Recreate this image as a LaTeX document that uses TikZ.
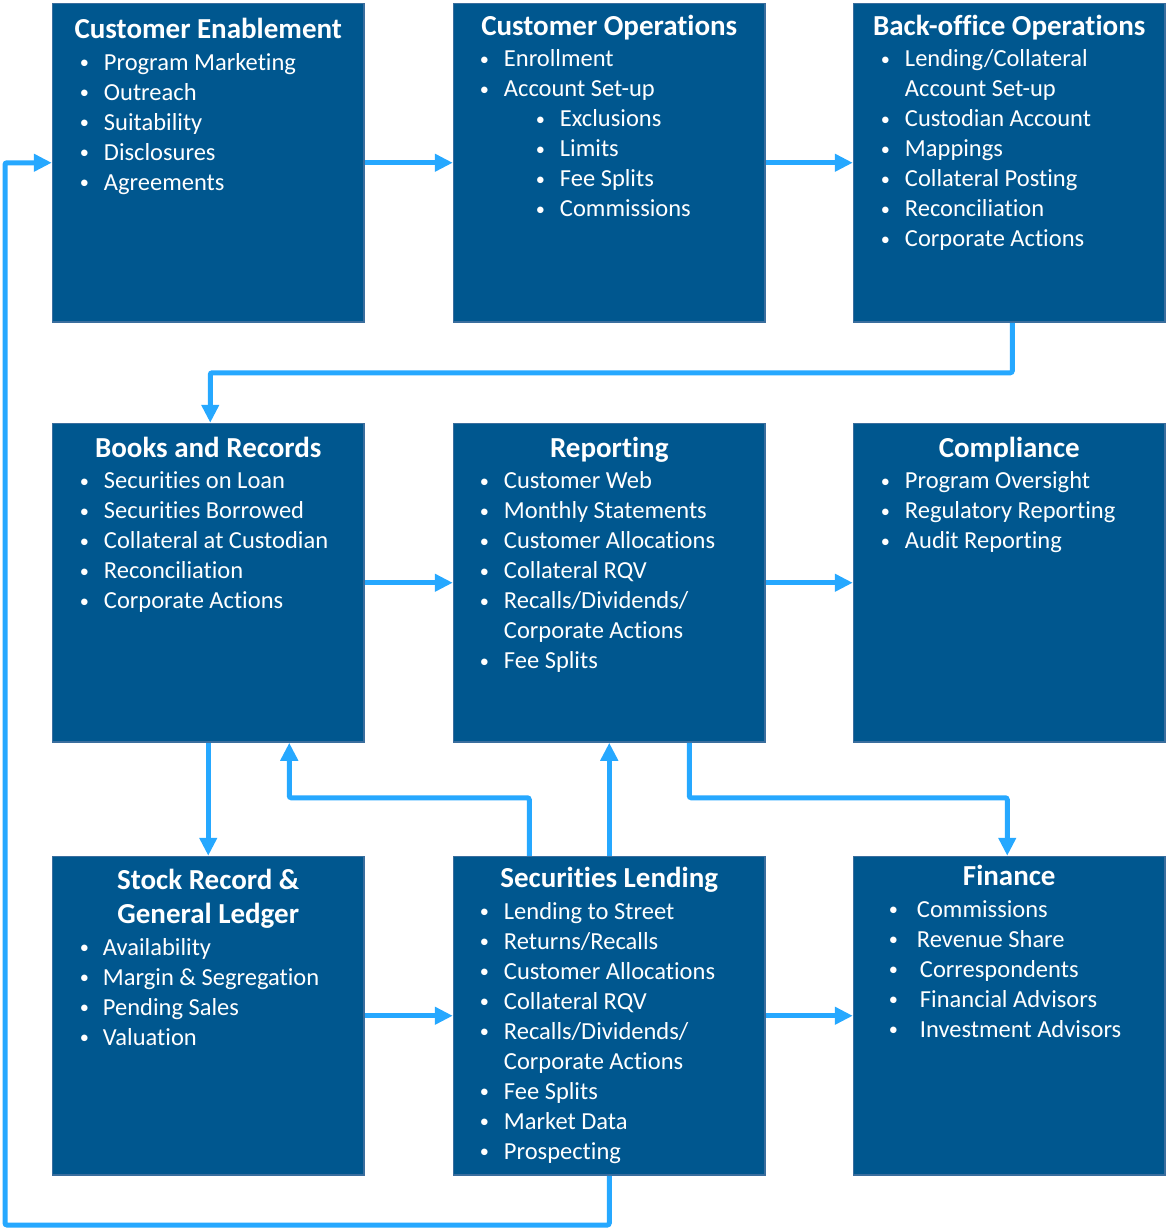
\documentclass[tikz,border=0pt]{standalone}
\usepackage{fontspec}
\setmainfont{Carlito}[Ligatures=NoCommon]
\usepackage{tikz}
\usetikzlibrary{arrows.meta,calc}
\usepackage{xcolor}
\definecolor{boxcol}{RGB}{0,87,143}
\definecolor{edgecol}{RGB}{58,110,158}
\definecolor{flowcol}{RGB}{38,168,255}
\tikzstyle{dept box}=[draw=edgecol,line width=1.5pt,fill=boxcol,inner sep=0pt,
  minimum width=311.5pt,minimum height=318.5pt,anchor=north west]
\tikzstyle{dept title}=[white,inner sep=0pt,anchor=base,
  font=\fontsize{29}{35}\selectfont\bfseries]
\tikzstyle{entry}=[white,inner sep=0pt,anchor=base west,
  font=\fontsize{24.5}{30}\selectfont]
\tikzstyle{flow}=[line width=5pt,color=flowcol,rounded corners=2pt,
  -{Triangle[length=18pt,width=17pt]}]
% bullet, sub bullet and continuation line
\newcommand{\itm}[1][25pt]{\makebox[#1][l]{\hspace*{1pt}\raisebox{0.07em}{\scalebox{0.75}{\textbullet}}}}
\newcommand{\subitm}{\hspace*{56pt}\itm}
\newcommand{\contd}{\hspace*{25pt}}
% one line per entry, 30pt apart
\newcommand{\deptlist}[4]{%
  \foreach \txt [count=\i from 0] in {#4}
    {\node[entry] (#1-\i) at ($(#1.north west)+(#2,#3+30*\i)$) {\txt};}}

\begin{document}
\begin{tikzpicture}[x=1pt,y=-1pt]
  \useasboundingbox (0,0) rectangle (1166,1229);

  % row 1
  \node[dept box] (enable) at (51.75,2.75) {};
  \node[dept box] (custops) at (452.75,2.75) {};
  \node[dept box] (backoff) at (852.75,2.75) {};
  % row 2
  \node[dept box] (books) at (51.75,422.75) {};
  \node[dept box] (report) at (452.75,422.75) {};
  \node[dept box] (comply) at (852.75,422.75) {};
  % row 3
  \node[dept box] (stock) at (51.75,855.75) {};
  \node[dept box] (seclend) at (452.75,855.75) {};
  \node[dept box] (finance) at (852.75,855.75) {};

  \node[dept title] (enable-t) at ($(enable.north)+(0,35.75)$) {Customer Enablement};
  \deptlist{enable}{27}{67.5}{\itm Program Marketing,\itm Outreach,\itm Suitability,
    \itm Disclosures,\itm Agreements}

  \node[dept title] (custops-t) at ($(custops.north)+(0,32.25)$) {Customer Operations};
  \deptlist{custops}{26}{64}{\itm Enrollment,\itm Account Set-up,\subitm Exclusions,
    \subitm Limits,\subitm Fee Splits,\subitm Commissions}

  \node[dept title] (backoff-t) at ($(backoff.north)+(0,32.25)$) {Back-office Operations};
  \deptlist{backoff}{27}{64}{\itm Lending/Collateral,\contd Account Set-up,
    \itm Custodian Account,\itm Mappings,\itm Collateral Posting,
    \itm Reconciliation,\itm Corporate Actions}

  \node[dept title] (books-t) at ($(books.north)+(0,34.25)$) {Books and Records};
  \deptlist{books}{27}{66}{\itm Securities on Loan,\itm Securities Borrowed,
    \itm Collateral at Custodian,\itm Reconciliation,\itm Corporate Actions}

  \node[dept title] (report-t) at ($(report.north)+(0,34.25)$) {Reporting};
  \deptlist{report}{26}{66}{\itm Customer Web,\itm Monthly Statements,
    \itm Customer Allocations,\itm Collateral RQV,\itm Recalls/Dividends/,
    \contd Corporate Actions,\itm Fee Splits}

  \node[dept title] (comply-t) at ($(comply.north)+(0,34.25)$) {Compliance};
  \deptlist{comply}{27}{66}{\itm Program Oversight,\itm Regulatory Reporting,
    \itm Audit Reporting}

  \node[dept title] (stock-t) at ($(stock.north)+(0,33.5)$) {Stock Record \&};
  \node[dept title] (stock-t2) at ($(stock.north)+(0,67.5)$) {General Ledger};
  \deptlist{stock}{27}{99.25}{\itm[24pt]Availability,\itm[24pt]Margin \& Segregation,
    \itm[24pt]Pending Sales,\itm[24pt]Valuation}

  \node[dept title] (seclend-t) at ($(seclend.north)+(0,31.75)$) {Securities Lending};
  \deptlist{seclend}{26}{63.25}{\itm Lending to Street,\itm Returns/Recalls,
    \itm Customer Allocations,\itm Collateral RQV,\itm Recalls/Dividends/,
    \contd Corporate Actions,\itm Fee Splits,\itm Market Data,\itm Prospecting}

  \node[dept title] (finance-t) at ($(finance.north)+(0,29.75)$) {Finance};
  \deptlist{finance}{35}{61.25}{\itm[29pt]Commissions,\itm[29pt]Revenue Share,
    \itm[32pt]Correspondents,\itm[32pt]Financial Advisors,\itm[32pt]Investment Advisors}

  % flow between boxes
  \draw[flow] (enable.east) -- (custops.west);
  \draw[flow] (custops.east) -- (backoff.west);
  \draw[flow] ([xshift=3pt]backoff.south) -- ++(0,50) -| ([xshift=2pt]books.north);
  \draw[flow] (books.east) -- (report.west);
  \draw[flow] (report.east) -- (comply.west);
  \draw[flow] (books.south) -- (stock.north);
  \draw[flow] ([xshift=-80pt]seclend.north) -- ++(0,-58) -| ([xshift=81pt]books.south);
  \draw[flow] (seclend.north) -- (report.south);
  \draw[flow] ([xshift=80pt]report.south) -- ++(0,55) -| ([xshift=-2pt]finance.north);
  \draw[flow] (stock.east) -- (seclend.west);
  \draw[flow] (seclend.east) -- (finance.west);
  \coordinate (rail) at (5,1225);
  \draw[flow] (seclend.south) |- (rail) |- (enable.west);

\end{tikzpicture}
\end{document}
